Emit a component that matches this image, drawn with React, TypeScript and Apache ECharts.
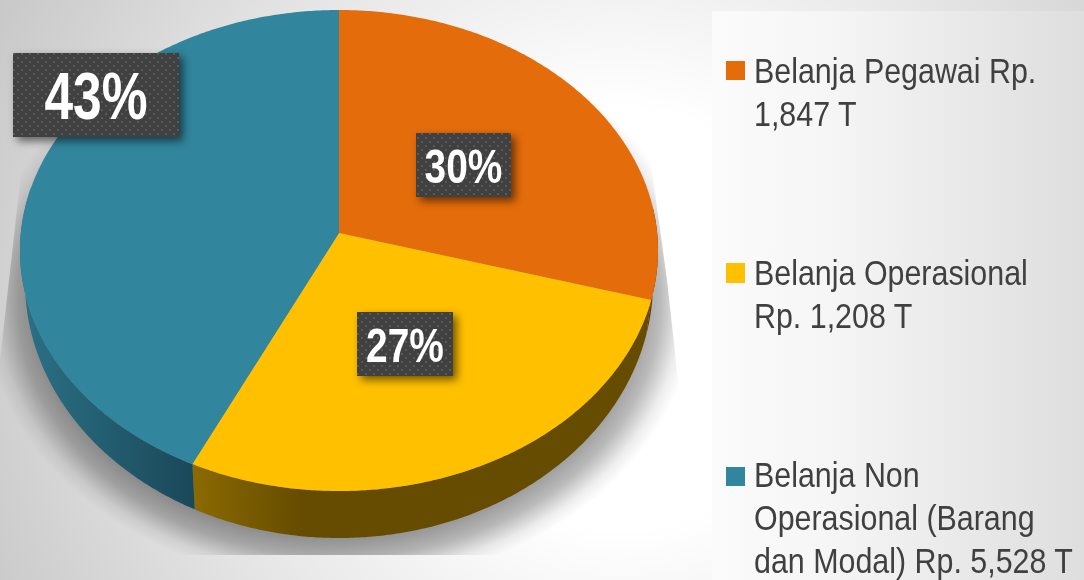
import React, { useEffect, useRef } from "react";
import * as echarts from "echarts";

const percentLabels = ["30%", "27%", "43%"];
const rimShares = [28.3, 29.3, 42.4];
const sliceColors = ["#E46C0A", "#FFC000", "#31859C"];
const legendLines = [
  ["Belanja Pegawai Rp.", "1,847 T"],
  ["Belanja Operasional", "Rp. 1,208 T"],
  ["Belanja Non", "Operasional (Barang", "dan Modal) Rp. 5,528 T"],
];

const FONT = '"Liberation Sans", Arial, sans-serif';
const TOP = { cx: 339, cy: 250.5, rx: 319, ry: 240.5 };
const BOTTOM = { cx: 339, cy: 282, rx: 314, ry: 256 };
const APEX = [339, 233];

const rim = (e: typeof TOP, deg: number) => {
  const a = (deg * Math.PI) / 180;
  return [e.cx + e.rx * Math.sin(a), e.cy - e.ry * Math.cos(a)];
};
const arc = (e: typeof TOP, a0: number, a1: number) => {
  const n = Math.max(2, Math.ceil(Math.abs(a1 - a0) * 2));
  const pts: number[][] = [];
  for (let i = 0; i <= n; i++) pts.push(rim(e, a0 + ((a1 - a0) * i) / n));
  return pts;
};

const sideFills = () => [
  "#6a2f03",
  new echarts.graphic.LinearGradient(193, 0, 300, 0, [
    { offset: 0, color: "#8b6a00" },
    { offset: 1, color: "#664c00" },
  ], true),
  new echarts.graphic.LinearGradient(25, 0, 195, 0, [
    { offset: 0, color: "#2b7086" },
    { offset: 1, color: "#1a4858" },
  ], true),
];

const boxes = [
  { x: 416, y: 133, w: 95, h: 64, size: 48, sx: 0.81 },
  { x: 357, y: 312, w: 96, h: 64, size: 48, sx: 0.81 },
  { x: 13, y: 53, w: 166, h: 84, size: 66, sx: 0.78 },
];
const legendPos = [
  { sq: 61, h: 19, line: 70.5 },
  { sq: 263, h: 20, line: 272.5 },
  { sq: 467, h: 19, line: 474.5 },
];

function dotPattern() {
  const c = document.createElement("canvas");
  c.width = 8;
  c.height = 8;
  const g = c.getContext("2d")!;
  g.fillStyle = "#404040";
  g.fillRect(0, 0, 8, 8);
  g.fillStyle = "#595959";
  g.fillRect(1, 1, 2, 2);
  g.fillRect(5, 5, 2, 2);
  return { image: c, repeat: "repeat" };
}

export default function App() {
  const ref = useRef<HTMLDivElement>(null);
  useEffect(() => {
    const chart = echarts.init(ref.current!, null, { renderer: "svg" });
    const bg = () =>
      new echarts.graphic.RadialGradient(620, 320, 700, [
        { offset: 0, color: "#ffffff" },
        { offset: 0.3, color: "#ffffff" },
        { offset: 1, color: "#c8c8c8" },
      ], true);
    const sides = sideFills();
    const pattern = dotPattern();
    const total = rimShares.reduce((a, b) => a + b, 0);

    const graphics: any[] = [
      { type: "rect", z: 0, shape: { x: 0, y: 0, width: 1084, height: 580 }, style: { fill: bg() } },
      {
        type: "ellipse",
        z: 0,
        shape: { cx: 339, cy: 300, rx: 357, ry: 285 },
        style: {
          fill: new echarts.graphic.RadialGradient(0.5, 0.5, 0.5, [
            { offset: 0, color: "rgba(0,0,0,0.42)" },
            { offset: 0.82, color: "rgba(0,0,0,0.42)" },
            { offset: 0.9, color: "rgba(0,0,0,0.27)" },
            { offset: 0.96, color: "rgba(0,0,0,0.07)" },
            { offset: 1, color: "rgba(0,0,0,0)" },
          ]),
        },
      },
      { type: "polygon", z: 0, shape: { points: [[645, 120], [667, 280], [678, 380], [680, 556], [712, 556], [712, 120]] }, style: { fill: bg() } },
      { type: "polygon", z: 0, shape: { points: [[0, 100], [22, 165], [18, 200], [0, 360]] }, style: { fill: bg() } },
      { type: "rect", z: 0, shape: { x: 0, y: 555, width: 712, height: 25 }, style: { fill: bg() } },
      {
        type: "rect",
        z: 0,
        shape: { x: 712, y: 11, width: 372, height: 569 },
        style: {
          fill: new echarts.graphic.LinearGradient(712, 0, 1084, 0, [
            { offset: 0, color: "#fbfbfb" },
            { offset: 0.3, color: "#f6f6f6" },
            { offset: 1, color: "#dedede" },
          ], true),
        },
      },
    ];

    boxes.forEach((b, i) => {
      graphics.push({
        type: "rect",
        z: 10,
        shape: { x: b.x, y: b.y, width: b.w, height: b.h },
        style: { fill: "#404040", shadowBlur: 8, shadowColor: "rgba(0,0,0,0.55)", shadowOffsetX: 4, shadowOffsetY: 4 },
      });
      graphics.push({
        type: "rect",
        z: 11,
        shape: { x: b.x, y: b.y, width: b.w, height: b.h },
        style: { fill: pattern },
      });
      graphics.push({
        type: "text",
        z: 12,
        x: b.x + b.w / 2,
        y: b.y + b.h / 2 + 1,
        scaleX: b.sx,
        style: {
          text: percentLabels[i],
          fill: "#fff",
          font: `bold ${b.size}px ${FONT}`,
          textAlign: "center",
          textVerticalAlign: "middle",
        },
      });
    });

    legendLines.forEach((lines, i) => {
      graphics.push({
        type: "rect",
        z: 5,
        shape: { x: 726, y: legendPos[i].sq, width: 19, height: legendPos[i].h },
        style: { fill: sliceColors[i] },
      });
      lines.forEach((t, j) => {
        graphics.push({
          type: "text",
          z: 5,
          x: 754,
          y: legendPos[i].line + j * 43,
          scaleX: 0.845,
          style: { text: t, fill: "#404040", font: `36px ${FONT}`, textAlign: "left", textVerticalAlign: "middle" },
        });
      });
    });

    chart.setOption({
      animation: false,
      graphic: { elements: graphics },
      series: [
        {
          type: "custom",
          coordinateSystem: "none",
          z: 3,
          silent: true,
          data: rimShares.map((v) => [v]),
          renderItem: (params: any, api: any) => {
            const idx = params.dataIndex;
            const before = rimShares.slice(0, idx).reduce((a, b) => a + b, 0);
            const a0 = (before / total) * 360;
            const a1 = a0 + (api.value(0) / total) * 360;
            const children: any[] = [];
            const s0 = Math.max(a0, 80);
            const s1 = Math.min(a1, 285);
            if (s1 > s0) {
              children.push({
                type: "polygon",
                shape: { points: [...arc(TOP, s0, s1), ...arc(BOTTOM, s1, s0)] },
                style: { fill: sides[idx] },
              });
            }
            children.push({
              type: "polygon",
              shape: { points: [APEX, ...arc(TOP, a0, a1)] },
              style: { fill: sliceColors[idx] },
            });
            return { type: "group", children };
          },
        },
      ],
    });
    return () => chart.dispose();
  }, []);
  return <div ref={ref} style={{ position: "fixed", left: 0, top: 0, width: 1084, height: 580 }} />;
}
